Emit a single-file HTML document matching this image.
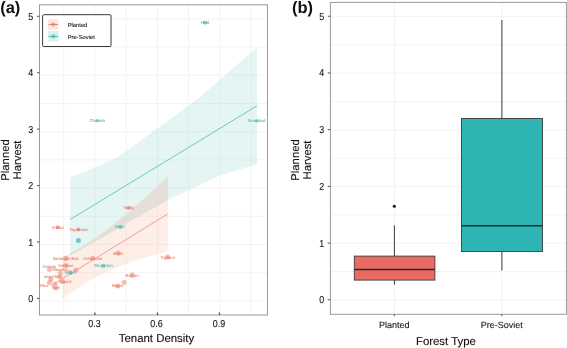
<!DOCTYPE html><html><head><meta charset="utf-8"><style>html,body{margin:0;padding:0;background:#fff;}body{width:567px;height:348px;overflow:hidden;font-family:"Liberation Sans",sans-serif;}svg{display:block;will-change:transform;}text{font-family:"Liberation Sans",sans-serif;text-rendering:geometricPrecision;}</style></head><body>
<svg width="567" height="348" viewBox="0 0 567 348">
<rect x="0" y="0" width="567" height="348" fill="#ffffff"/>
<line x1="39.5" x2="267.45" y1="18.90" y2="18.90" stroke="#f5f3f0" stroke-width="1"/>
<line x1="39.5" x2="267.45" y1="47.10" y2="47.10" stroke="#f5f3f0" stroke-width="1"/>
<line x1="39.5" x2="267.45" y1="75.30" y2="75.30" stroke="#f5f3f0" stroke-width="1"/>
<line x1="39.5" x2="267.45" y1="103.50" y2="103.50" stroke="#f5f3f0" stroke-width="1"/>
<line x1="39.5" x2="267.45" y1="131.70" y2="131.70" stroke="#f5f3f0" stroke-width="1"/>
<line x1="39.5" x2="267.45" y1="159.90" y2="159.90" stroke="#f5f3f0" stroke-width="1"/>
<line x1="39.5" x2="267.45" y1="188.10" y2="188.10" stroke="#f5f3f0" stroke-width="1"/>
<line x1="39.5" x2="267.45" y1="216.30" y2="216.30" stroke="#f5f3f0" stroke-width="1"/>
<line x1="39.5" x2="267.45" y1="244.50" y2="244.50" stroke="#f5f3f0" stroke-width="1"/>
<line x1="39.5" x2="267.45" y1="272.70" y2="272.70" stroke="#f5f3f0" stroke-width="1"/>
<line x1="39.5" x2="267.45" y1="300.90" y2="300.90" stroke="#f5f3f0" stroke-width="1"/>
<line x1="63.6" x2="63.6" y1="4.8" y2="315.0" stroke="#f5f3f0" stroke-width="1"/>
<line x1="94.9" x2="94.9" y1="4.8" y2="315.0" stroke="#f5f3f0" stroke-width="1"/>
<line x1="126.1" x2="126.1" y1="4.8" y2="315.0" stroke="#f5f3f0" stroke-width="1"/>
<line x1="157.5" x2="157.5" y1="4.8" y2="315.0" stroke="#f5f3f0" stroke-width="1"/>
<line x1="188.5" x2="188.5" y1="4.8" y2="315.0" stroke="#f5f3f0" stroke-width="1"/>
<line x1="219.8" x2="219.8" y1="4.8" y2="315.0" stroke="#f5f3f0" stroke-width="1"/>
<line x1="251.0" x2="251.0" y1="4.8" y2="315.0" stroke="#f5f3f0" stroke-width="1"/>
<polygon points="70.2,177.6 95.3,167.6 117.7,157.2 136.0,144.3 150.0,133.7 200.0,97.2 257.0,47.1 257.0,164.2 220.0,175.5 190.0,189.5 169.0,199.5 135.0,218.5 100.0,239.0 70.2,255.6" fill="#a8ded7" fill-opacity="0.3"/>
<polygon points="62.2,256.9 67.5,254.4 72.8,251.7 78.1,248.8 83.3,245.8 88.6,242.5 93.9,239.0 99.2,235.3 104.5,231.4 109.8,227.4 115.1,223.2 120.3,218.9 125.6,214.5 130.9,209.9 136.2,205.3 141.5,200.6 146.8,195.8 152.0,191.0 157.3,186.2 162.6,181.2 167.9,176.3 167.9,250.9 162.6,252.4 157.3,253.9 152.0,255.5 146.8,257.1 141.5,258.8 136.2,260.5 130.9,262.4 125.6,264.3 120.3,266.3 115.1,268.4 109.8,270.6 104.5,273.0 99.2,275.6 93.9,278.4 88.6,281.3 83.3,284.5 78.1,287.8 72.8,291.4 67.5,295.2 62.2,299.1" fill="#f8c6b2" fill-opacity="0.3"/>
<polygon points="70.2,253.1 73.5,251.4 76.7,249.6 80.0,247.8 83.2,245.8 86.5,243.8 89.7,241.8 93.0,239.6 96.3,237.4 99.5,235.1 102.8,232.7 106.0,230.3 109.3,227.8 112.5,225.2 115.8,222.6 119.1,220.0 122.3,217.3 125.6,214.5 128.8,211.7 132.1,208.9 135.3,206.1 138.6,203.2 141.8,200.3 145.1,197.3 148.4,194.4 151.6,191.4 154.9,188.4 158.1,185.4 161.4,182.4 164.6,179.4 167.9,176.3 167.9,200.1 164.6,201.9 161.4,203.8 158.1,205.6 154.9,207.4 151.6,209.2 148.4,211.0 145.1,212.9 141.8,214.7 138.6,216.5 135.3,218.3 132.1,220.2 128.8,222.1 125.6,224.0 122.3,225.9 119.1,227.8 115.8,229.7 112.5,231.7 109.3,233.6 106.0,235.5 102.8,237.4 99.5,239.3 96.3,241.1 93.0,242.9 89.7,244.7 86.5,246.5 83.2,248.3 80.0,250.2 76.7,252.0 73.5,253.8 70.2,255.6" fill="#d4d0ce" fill-opacity="0.3"/>
<line x1="70.1" y1="219.5" x2="256.9" y2="105.9" stroke="#4fbcb4" stroke-width="0.8"/>
<line x1="51" y1="285.6" x2="167.9" y2="213.9" stroke="#ea8876" stroke-width="0.75"/>
<circle cx="57.7" cy="227.3" r="2.0" fill="#e8806d" fill-opacity="0.65"/>
<circle cx="78.4" cy="229.4" r="2.0" fill="#e8806d" fill-opacity="0.65"/>
<circle cx="128.6" cy="208" r="2.0" fill="#e8806d" fill-opacity="0.65"/>
<circle cx="65.8" cy="258.3" r="2.5" fill="#e8806d" fill-opacity="0.52"/>
<circle cx="92.8" cy="258.3" r="2.5" fill="#e8806d" fill-opacity="0.52"/>
<circle cx="65.8" cy="265.4" r="2.5" fill="#e8806d" fill-opacity="0.52"/>
<circle cx="49.5" cy="269.6" r="2.5" fill="#e8806d" fill-opacity="0.52"/>
<circle cx="60.2" cy="273" r="2.5" fill="#e8806d" fill-opacity="0.52"/>
<circle cx="75.7" cy="270.3" r="2.5" fill="#e8806d" fill-opacity="0.52"/>
<circle cx="51" cy="279.4" r="2.5" fill="#e8806d" fill-opacity="0.52"/>
<circle cx="59.8" cy="277" r="2.5" fill="#e8806d" fill-opacity="0.52"/>
<circle cx="62.5" cy="281.4" r="2.5" fill="#e8806d" fill-opacity="0.52"/>
<circle cx="49.5" cy="282.5" r="2.5" fill="#e8806d" fill-opacity="0.52"/>
<circle cx="55" cy="284" r="2.5" fill="#e8806d" fill-opacity="0.52"/>
<circle cx="55.8" cy="288" r="2.5" fill="#e8806d" fill-opacity="0.52"/>
<circle cx="118.2" cy="253.1" r="2.5" fill="#e8806d" fill-opacity="0.52"/>
<circle cx="167.6" cy="257.1" r="2.5" fill="#e8806d" fill-opacity="0.52"/>
<circle cx="132.2" cy="275.1" r="2.5" fill="#e8806d" fill-opacity="0.52"/>
<circle cx="124.2" cy="282.6" r="2.5" fill="#e8806d" fill-opacity="0.52"/>
<circle cx="117.7" cy="286" r="2.5" fill="#e8806d" fill-opacity="0.52"/>
<circle cx="205.1" cy="22.6" r="2.1" fill="#4fbcb4" fill-opacity="0.7"/>
<circle cx="97.3" cy="120.8" r="1.7" fill="#4fbcb4" fill-opacity="0.5"/>
<circle cx="256.6" cy="121" r="1.8" fill="#4fbcb4" fill-opacity="0.6"/>
<circle cx="78.4" cy="240.6" r="2.5" fill="#4fbcb4" fill-opacity="0.78"/>
<circle cx="120" cy="227" r="2.2" fill="#4fbcb4" fill-opacity="0.55"/>
<circle cx="70.1" cy="272.2" r="2.2" fill="#4fbcb4" fill-opacity="0.55"/>
<circle cx="103.3" cy="265.9" r="2.2" fill="#4fbcb4" fill-opacity="0.55"/>
<text x="57.7" y="228.70000000000002" font-size="4.2" text-anchor="middle" textLength="11.9" lengthAdjust="spacingAndGlyphs" fill="#e77d69" stroke="#e77d69" stroke-width="0.07">Vrabut</text>
<text x="78.4" y="230.8" font-size="4.2" text-anchor="middle" textLength="18.3" lengthAdjust="spacingAndGlyphs" fill="#e77d69" stroke="#e77d69" stroke-width="0.07">Tayakona</text>
<text x="128.6" y="209.4" font-size="4.2" text-anchor="middle" textLength="10.2" lengthAdjust="spacingAndGlyphs" fill="#e77d69" stroke="#e77d69" stroke-width="0.07">Vahg</text>
<text x="65.8" y="259.7" font-size="4.2" text-anchor="middle" textLength="26" lengthAdjust="spacingAndGlyphs" fill="#e77d69" stroke="#e77d69" stroke-width="0.07">Namangan Bolo</text>
<text x="92.8" y="259.7" font-size="4.2" text-anchor="middle" textLength="19" lengthAdjust="spacingAndGlyphs" fill="#e77d69" stroke="#e77d69" stroke-width="0.07">Dehqonona</text>
<text x="65.8" y="266.79999999999995" font-size="4.2" text-anchor="middle" textLength="15.6" lengthAdjust="spacingAndGlyphs" fill="#e77d69" stroke="#e77d69" stroke-width="0.07">Yakkhun</text>
<text x="55.8" y="289.4" font-size="4.2" text-anchor="middle" textLength="8.2" lengthAdjust="spacingAndGlyphs" fill="#e77d69" stroke="#e77d69" stroke-width="0.07">Rarm</text>
<text x="118.2" y="254.5" font-size="4.2" text-anchor="middle" textLength="10.3" lengthAdjust="spacingAndGlyphs" fill="#e77d69" stroke="#e77d69" stroke-width="0.07">Mohs</text>
<text x="167.6" y="258.5" font-size="4.2" text-anchor="middle" textLength="14.2" lengthAdjust="spacingAndGlyphs" fill="#e77d69" stroke="#e77d69" stroke-width="0.07">Toyland</text>
<text x="132.2" y="276.5" font-size="4.2" text-anchor="middle" textLength="13.4" lengthAdjust="spacingAndGlyphs" fill="#e77d69" stroke="#e77d69" stroke-width="0.07">Kuljon</text>
<text x="117.7" y="287.4" font-size="4.2" text-anchor="middle" textLength="10.8" lengthAdjust="spacingAndGlyphs" fill="#e77d69" stroke="#e77d69" stroke-width="0.07">Bojow</text>
<text x="52.4" y="278.4" font-size="4.2" text-anchor="middle" textLength="17.5" lengthAdjust="spacingAndGlyphs" fill="#e77d69" stroke="#e77d69" stroke-width="0.07">Langar Rabot</text>
<text x="44.4" y="287.4" font-size="4.2" text-anchor="middle" textLength="8.7" lengthAdjust="spacingAndGlyphs" fill="#e77d69" stroke="#e77d69" stroke-width="0.07">Hisor</text>
<text x="49.3" y="268.29999999999995" font-size="4.2" text-anchor="middle" textLength="13.6" lengthAdjust="spacingAndGlyphs" fill="#e77d69" stroke="#e77d69" stroke-width="0.07">Zumudo</text>
<text x="59.9" y="271.09999999999997" font-size="4.2" text-anchor="middle" textLength="15" lengthAdjust="spacingAndGlyphs" fill="#e77d69" stroke="#e77d69" stroke-width="0.07">Maschid</text>
<text x="65.2" y="282.7" font-size="4.2" text-anchor="middle" textLength="12.2" lengthAdjust="spacingAndGlyphs" fill="#e77d69" stroke="#e77d69" stroke-width="0.07">Gujand</text>
<text x="205.1" y="24.0" font-size="4.2" text-anchor="middle" textLength="8.8" lengthAdjust="spacingAndGlyphs" fill="#4cb9b1" stroke="#4cb9b1" stroke-width="0.07">Hoit</text>
<text x="97.3" y="122.2" font-size="4.2" text-anchor="middle" textLength="15.7" lengthAdjust="spacingAndGlyphs" fill="#4cb9b1" stroke="#4cb9b1" stroke-width="0.07">Chakarm</text>
<text x="256.6" y="122.4" font-size="4.2" text-anchor="middle" textLength="17.6" lengthAdjust="spacingAndGlyphs" fill="#4cb9b1" stroke="#4cb9b1" stroke-width="0.07">Sovetobod</text>
<text x="120" y="228.4" font-size="4.2" text-anchor="middle" textLength="10.3" lengthAdjust="spacingAndGlyphs" fill="#4cb9b1" stroke="#4cb9b1" stroke-width="0.07">Sebiz</text>
<text x="70.1" y="273.59999999999997" font-size="4.2" text-anchor="middle" textLength="11" lengthAdjust="spacingAndGlyphs" fill="#4cb9b1" stroke="#4cb9b1" stroke-width="0.07">Shigin</text>
<text x="103.3" y="267.29999999999995" font-size="4.2" text-anchor="middle" textLength="18.6" lengthAdjust="spacingAndGlyphs" fill="#4cb9b1" stroke="#4cb9b1" stroke-width="0.07">Shohidon</text>
<rect x="39.5" y="4.8" width="227.95" height="310.2" fill="none" stroke="#9a9a9a" stroke-width="1"/>
<line x1="37" x2="39.5" y1="16.30" y2="16.30" stroke="#444" stroke-width="0.9"/>
<text transform="translate(33.2,20.00) scale(0.97,1.1)" font-size="9.2" text-anchor="end" fill="#151515" stroke="#151515" stroke-width="0.1">5</text>
<line x1="37" x2="39.5" y1="72.72" y2="72.72" stroke="#444" stroke-width="0.9"/>
<text transform="translate(33.2,76.42) scale(0.97,1.1)" font-size="9.2" text-anchor="end" fill="#151515" stroke="#151515" stroke-width="0.1">4</text>
<line x1="37" x2="39.5" y1="129.14" y2="129.14" stroke="#444" stroke-width="0.9"/>
<text transform="translate(33.2,132.84) scale(0.97,1.1)" font-size="9.2" text-anchor="end" fill="#151515" stroke="#151515" stroke-width="0.1">3</text>
<line x1="37" x2="39.5" y1="185.56" y2="185.56" stroke="#444" stroke-width="0.9"/>
<text transform="translate(33.2,189.26) scale(0.97,1.1)" font-size="9.2" text-anchor="end" fill="#151515" stroke="#151515" stroke-width="0.1">2</text>
<line x1="37" x2="39.5" y1="241.98" y2="241.98" stroke="#444" stroke-width="0.9"/>
<text transform="translate(33.2,245.68) scale(0.97,1.1)" font-size="9.2" text-anchor="end" fill="#151515" stroke="#151515" stroke-width="0.1">1</text>
<line x1="37" x2="39.5" y1="298.40" y2="298.40" stroke="#444" stroke-width="0.9"/>
<text transform="translate(33.2,302.10) scale(0.97,1.1)" font-size="9.2" text-anchor="end" fill="#151515" stroke="#151515" stroke-width="0.1">0</text>
<line x1="94.9" x2="94.9" y1="312.5" y2="315.0" stroke="#444" stroke-width="1.2"/>
<text transform="translate(94.5,326.5) scale(0.97,1.1)" font-size="9.2" text-anchor="middle" fill="#151515" stroke="#151515" stroke-width="0.1">0.3</text>
<line x1="157.5" x2="157.5" y1="312.5" y2="315.0" stroke="#444" stroke-width="1.2"/>
<text transform="translate(156.5,326.5) scale(0.97,1.1)" font-size="9.2" text-anchor="middle" fill="#151515" stroke="#151515" stroke-width="0.1">0.6</text>
<line x1="219.5" x2="219.5" y1="312.5" y2="315.0" stroke="#444" stroke-width="1.2"/>
<text transform="translate(218.9,326.5) scale(0.97,1.1)" font-size="9.2" text-anchor="middle" fill="#151515" stroke="#151515" stroke-width="0.1">0.9</text>
<text x="156.5" y="342.2" font-size="11.4" text-anchor="middle" fill="#111" stroke="#111" stroke-width="0.12">Tenant Density</text>
<text transform="translate(8.9,160) rotate(-90)" font-size="11.3" text-anchor="middle" fill="#111" stroke="#111" stroke-width="0.12">Planned</text>
<text transform="translate(21.2,160) rotate(-90)" font-size="11.3" text-anchor="middle" fill="#111" stroke="#111" stroke-width="0.12">Harvest</text>
<text x="0.2" y="12.8" font-size="16.5" font-weight="bold" fill="#111">(a)</text>
<rect x="42.6" y="14.7" width="68.4" height="31.8" rx="1" fill="#ffffff" stroke="#3a3a3a" stroke-width="1"/>
<rect x="48" y="19.2" width="10.6" height="10.5" fill="#f8c6b2" fill-opacity="0.42"/>
<line x1="48.6" x2="58" y1="24.5" y2="24.5" stroke="#e8806d" stroke-width="1"/>
<circle cx="53.3" cy="24.5" r="2.1" fill="#e8806d" fill-opacity="0.7"/>
<text x="67.7" y="26.799999999999997" font-size="5.8" fill="#111" stroke="#111" stroke-width="0.1">Planted</text>
<rect x="48" y="31.1" width="10.6" height="10.5" fill="#a8ded7" fill-opacity="0.42"/>
<line x1="48.6" x2="58" y1="36.4" y2="36.4" stroke="#4fbcb4" stroke-width="1"/>
<circle cx="53.3" cy="36.4" r="2.1" fill="#4fbcb4" fill-opacity="0.7"/>
<text x="67.7" y="38.7" font-size="5.8" fill="#111" stroke="#111" stroke-width="0.1">Pre-Soviet</text>
<line x1="330.4" x2="566.4" y1="16.50" y2="16.50" stroke="#f5f3f0" stroke-width="1"/>
<line x1="330.4" x2="566.4" y1="44.85" y2="44.85" stroke="#f5f3f0" stroke-width="1"/>
<line x1="330.4" x2="566.4" y1="73.20" y2="73.20" stroke="#f5f3f0" stroke-width="1"/>
<line x1="330.4" x2="566.4" y1="101.55" y2="101.55" stroke="#f5f3f0" stroke-width="1"/>
<line x1="330.4" x2="566.4" y1="129.90" y2="129.90" stroke="#f5f3f0" stroke-width="1"/>
<line x1="330.4" x2="566.4" y1="158.25" y2="158.25" stroke="#f5f3f0" stroke-width="1"/>
<line x1="330.4" x2="566.4" y1="186.60" y2="186.60" stroke="#f5f3f0" stroke-width="1"/>
<line x1="330.4" x2="566.4" y1="214.95" y2="214.95" stroke="#f5f3f0" stroke-width="1"/>
<line x1="330.4" x2="566.4" y1="243.30" y2="243.30" stroke="#f5f3f0" stroke-width="1"/>
<line x1="330.4" x2="566.4" y1="271.65" y2="271.65" stroke="#f5f3f0" stroke-width="1"/>
<line x1="330.4" x2="566.4" y1="300.00" y2="300.00" stroke="#f5f3f0" stroke-width="1"/>
<line x1="394.5" x2="394.5" y1="2.4" y2="314.3" stroke="#f5f3f0" stroke-width="1"/>
<line x1="502" x2="502" y1="2.4" y2="314.3" stroke="#f5f3f0" stroke-width="1"/>
<line x1="394.4" x2="394.4" y1="225.3" y2="256.1" stroke="#3c3c3c" stroke-width="1"/>
<line x1="394.4" x2="394.4" y1="280" y2="284.7" stroke="#3c3c3c" stroke-width="1"/>
<rect x="354.3" y="256.1" width="80.59999999999997" height="24.0" fill="#e96b63" stroke="#3c3c3c" stroke-width="0.9"/>
<line x1="354.3" x2="434.9" y1="269.5" y2="269.5" stroke="#2a2a2a" stroke-width="1.6"/>
<circle cx="394.3" cy="206.3" r="1.55" fill="#151515"/>
<line x1="501.9" x2="501.9" y1="20" y2="118.5" stroke="#3c3c3c" stroke-width="1"/>
<line x1="501.9" x2="501.9" y1="251.5" y2="270.5" stroke="#3c3c3c" stroke-width="1"/>
<rect x="461.5" y="118.5" width="81.0" height="133.0" fill="#2fb4b4" stroke="#3c3c3c" stroke-width="0.9"/>
<line x1="461.5" x2="542.5" y1="225.8" y2="225.8" stroke="#2a2a2a" stroke-width="1.6"/>
<rect x="330.4" y="2.4" width="236.0" height="311.90000000000003" fill="none" stroke="#9a9a9a" stroke-width="1"/>
<line x1="327.8" x2="330.4" y1="16.25" y2="16.25" stroke="#444" stroke-width="0.9"/>
<text transform="translate(324.2,19.75) scale(0.97,1.1)" font-size="9.2" text-anchor="end" fill="#151515" stroke="#151515" stroke-width="0.1">5</text>
<line x1="327.8" x2="330.4" y1="72.95" y2="72.95" stroke="#444" stroke-width="0.9"/>
<text transform="translate(324.2,76.45) scale(0.97,1.1)" font-size="9.2" text-anchor="end" fill="#151515" stroke="#151515" stroke-width="0.1">4</text>
<line x1="327.8" x2="330.4" y1="129.65" y2="129.65" stroke="#444" stroke-width="0.9"/>
<text transform="translate(324.2,133.15) scale(0.97,1.1)" font-size="9.2" text-anchor="end" fill="#151515" stroke="#151515" stroke-width="0.1">3</text>
<line x1="327.8" x2="330.4" y1="186.35" y2="186.35" stroke="#444" stroke-width="0.9"/>
<text transform="translate(324.2,189.85) scale(0.97,1.1)" font-size="9.2" text-anchor="end" fill="#151515" stroke="#151515" stroke-width="0.1">2</text>
<line x1="327.8" x2="330.4" y1="243.05" y2="243.05" stroke="#444" stroke-width="0.9"/>
<text transform="translate(324.2,246.55) scale(0.97,1.1)" font-size="9.2" text-anchor="end" fill="#151515" stroke="#151515" stroke-width="0.1">1</text>
<line x1="327.8" x2="330.4" y1="299.75" y2="299.75" stroke="#444" stroke-width="0.9"/>
<text transform="translate(324.2,303.25) scale(0.97,1.1)" font-size="9.2" text-anchor="end" fill="#151515" stroke="#151515" stroke-width="0.1">0</text>
<line x1="394.3" x2="394.3" y1="314.3" y2="316.2" stroke="#444" stroke-width="0.9"/>
<text x="394.3" y="328.4" font-size="9.0" text-anchor="middle" fill="#151515" stroke="#151515" stroke-width="0.1">Planted</text>
<line x1="501.8" x2="501.8" y1="314.3" y2="316.2" stroke="#444" stroke-width="0.9"/>
<text x="501.8" y="328.4" font-size="9.0" text-anchor="middle" fill="#151515" stroke="#151515" stroke-width="0.1">Pre-Soviet</text>
<text x="445.9" y="344.7" font-size="11.4" text-anchor="middle" fill="#111" stroke="#111" stroke-width="0.12">Forest Type</text>
<text transform="translate(298.6,160) rotate(-90)" font-size="11.3" text-anchor="middle" fill="#111" stroke="#111" stroke-width="0.12">Planned</text>
<text transform="translate(310.5,160) rotate(-90)" font-size="11.3" text-anchor="middle" fill="#111" stroke="#111" stroke-width="0.12">Harvest</text>
<text x="291.9" y="12.6" font-size="16.5" font-weight="bold" fill="#111">(b)</text>
</svg></body></html>
